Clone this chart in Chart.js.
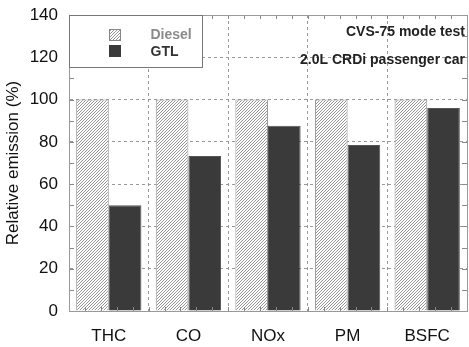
<!DOCTYPE html>
<html>
<head>
<meta charset="utf-8">
<script src="https://cdn.jsdelivr.net/npm/chart.js@4"></script>
<style>
  html, body { margin: 0; padding: 0; background: #fff; }
  #wrap { width: 469px; height: 347px; }
</style>
</head>
<body>
<div id="wrap"><canvas id="chart" width="469" height="347"></canvas></div>
<script>
// categorias y valores
const categories = ["THC", "CO", "NOx", "PM", "BSFC"];
const dieselValues = [100, 100, 100, 100, 100];
const gtlValues = [50, 73.3, 87.6, 78.5, 96];
const yTicks = [0, 20, 40, 60, 80, 100, 120, 140];
const noteLines = ["CVS-75 mode test", "2.0L CRDi passenger car"];

const FONT = "'Liberation Sans', Arial, sans-serif";

// patron rayado para Diesel
function makeHatch() {
  const n = 3;
  const c = document.createElement("canvas");
  c.width = n; c.height = n;
  const g = c.getContext("2d");
  g.fillStyle = "#fff";
  g.fillRect(0, 0, n, n);
  g.strokeStyle = "#7a7a7a";
  g.lineWidth = 0.8;
  g.beginPath();
  g.moveTo(0, n); g.lineTo(n, 0);
  g.moveTo(-1, 1); g.lineTo(1, -1);
  g.moveTo(n - 1, n + 1); g.lineTo(n + 1, n - 1);
  g.stroke();
  return g.createPattern(c, "repeat");
}
const hatch = makeHatch();

// marco, ticks menores, leyenda y nota
const extras = {
  id: "extras",
  afterDraw(chart) {
    const ctx = chart.ctx;
    const a = chart.chartArea;
    const y = chart.scales.y;
    ctx.save();
    ctx.strokeStyle = "#888";
    ctx.lineWidth = 1;
    ctx.beginPath();
    for (let v = 10; v < 140; v += 10) {
      const py = Math.round(y.getPixelForValue(v)) + 0.5;
      ctx.moveTo(a.left, py); ctx.lineTo(a.left + 5, py);
      ctx.moveTo(a.right, py); ctx.lineTo(a.right - 5, py);
    }
    const step = (a.right - a.left) / categories.length / 5;
    for (let i = 1; i < categories.length * 5; i++) {
      const px = Math.round(a.left + i * step) + 0.5;
      ctx.moveTo(px, a.top); ctx.lineTo(px, a.top + 4);
      ctx.moveTo(px, a.bottom); ctx.lineTo(px, a.bottom - 4);
    }
    ctx.stroke();
    ctx.strokeStyle = "#999";
    ctx.strokeRect(Math.round(a.left) + 0.5, Math.round(a.top) + 0.5,
      Math.round(a.right - a.left), Math.round(a.bottom - a.top));

    // leyenda
    const lx = Math.round(a.left) + 0.5, ly = Math.round(a.top) + 0.5, lw = 133, lh = 52;
    ctx.fillStyle = "#fff";
    ctx.fillRect(lx, ly, lw, lh);
    ctx.strokeStyle = "#777";
    ctx.strokeRect(lx, ly, lw, lh);
    const ds = chart.data.datasets;
    ctx.fillStyle = ds[0].backgroundColor;
    ctx.fillRect(lx + 40, ly + 14, 11, 11);
    ctx.strokeStyle = "#888";
    ctx.strokeRect(lx + 40, ly + 14, 11, 11);
    ctx.fillStyle = ds[1].backgroundColor;
    ctx.fillRect(lx + 39.5, ly + 29.5, 12, 12);
    ctx.font = "bold 14px " + FONT;
    ctx.textBaseline = "middle";
    ctx.fillStyle = "#8a8a8a";
    ctx.fillText(ds[0].label, lx + 81, ly + 20);
    ctx.fillStyle = "#333";
    ctx.fillText(ds[1].label, lx + 81, ly + 37);

    // nota
    ctx.textAlign = "right";
    ctx.fillStyle = "#222";
    ctx.fillText(noteLines[0], a.right - 2, a.top + 17);
    ctx.fillText(noteLines[1], a.right - 2, a.top + 45);
    ctx.restore();
  }
};

new Chart(document.getElementById("chart"), {
  type: "bar",
  data: {
    labels: categories,
    datasets: [
      {
        label: "Diesel",
        data: dieselValues,
        backgroundColor: hatch,
        borderColor: "#999",
        borderWidth: 1,
        categoryPercentage: 0.82,
        barPercentage: 1.0
      },
      {
        label: "GTL",
        data: gtlValues,
        backgroundColor: "#3a3a3a",
        borderColor: "#555",
        borderWidth: 1,
        categoryPercentage: 0.82,
        barPercentage: 1.0
      }
    ]
  },
  options: {
    responsive: false,
    animation: false,
    layout: { padding: { top: 15, right: 2, left: 0, bottom: 0 } },
    plugins: {
      legend: { display: false },
      tooltip: { enabled: false }
    },
    scales: {
      x: {
        offset: true,
        afterFit: (s) => { s.height = 36; s.paddingLeft = 0; s.paddingRight = 0; },
        grid: {
          offset: true,
          color: "#999",
          drawTicks: false
        },
        border: { color: "#999", dash: [3, 3] },
        ticks: {
          color: "#111",
          font: { family: FONT, size: 17 },
          padding: 15
        }
      },
      y: {
        min: 0,
        max: 140,
        afterBuildTicks: (s) => { s.ticks = yTicks.map(v => ({ value: v })); },
        afterFit: (s) => { s.width = 69; s.paddingTop = 0; s.paddingBottom = 0; },
        grid: {
          color: "#999",
          drawTicks: false
        },
        border: { color: "#999", dash: [3, 3] },
        ticks: {
          color: "#111",
          font: { family: FONT, size: 17 },
          padding: 11
        },
        title: {
          display: true,
          text: "Relative emission (%)",
          color: "#111",
          font: { family: FONT, size: 17 },
          padding: { top: 3, bottom: 2 }
        }
      }
    }
  },
  plugins: [extras]
});
</script>
</body>
</html>
